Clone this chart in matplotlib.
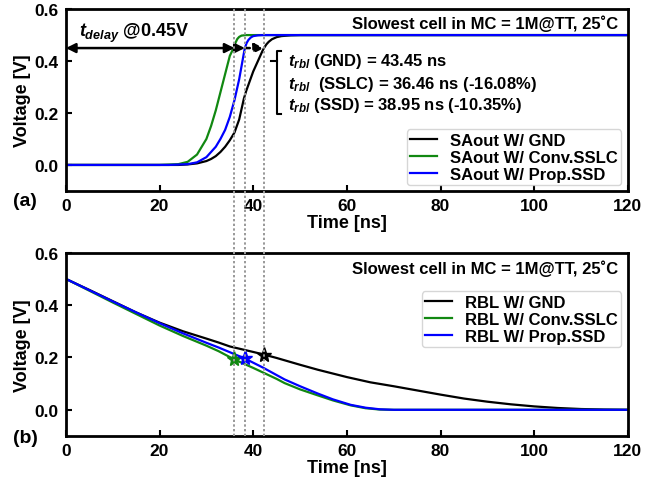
import matplotlib
matplotlib.use("Agg")
import matplotlib.pyplot as plt
from matplotlib.lines import Line2D
from matplotlib.transforms import blended_transform_factory

plt.rcParams['font.family'] = ['Liberation Sans', 'DejaVu Sans']
plt.rcParams['font.weight'] = 'bold'
plt.rcParams['mathtext.fontset'] = 'custom'
plt.rcParams['mathtext.it'] = 'Liberation Sans:bold:italic'
plt.rcParams['mathtext.rm'] = 'Liberation Sans:bold'
plt.rcParams['mathtext.bf'] = 'Liberation Sans:bold'

# ---- data: (a) sense-amp output ----
t_sa_gnd = [0, 24, 26, 28, 30, 31, 32, 33, 34, 35, 36, 37, 37.5, 38, 38.5, 39, 39.5, 40, 40.5, 41,
            41.5, 42, 42.3, 42.8, 43.3, 44, 45, 46, 48, 50, 120]
v_sa_gnd = [0, 0, 0.002, 0.006, 0.015, 0.023, 0.034, 0.05, 0.07, 0.095, 0.125, 0.175, 0.215, 0.255,
            0.285, 0.31, 0.335, 0.36, 0.38, 0.40, 0.42, 0.44, 0.45, 0.464, 0.474, 0.484, 0.492,
            0.496, 0.499, 0.5, 0.5]

t_sa_sslc = [0, 20, 24, 26, 28, 30, 31, 32, 33, 34, 35, 35.8, 36.2, 36.6, 37, 37.5, 38.5, 40, 120]
v_sa_sslc = [0, 0, 0.003, 0.012, 0.04, 0.1, 0.15, 0.21, 0.28, 0.35, 0.42, 0.45, 0.47, 0.485,
             0.493, 0.498, 0.5, 0.5, 0.5]

t_sa_ssd = [0, 22, 26, 28, 30, 32, 33, 34, 35, 36, 36.5, 37, 37.5, 38, 38.2, 38.6, 39, 39.5, 40,
            41, 42, 120]
v_sa_ssd = [0, 0, 0.003, 0.01, 0.03, 0.07, 0.1, 0.135, 0.185, 0.25, 0.29, 0.33, 0.38, 0.43, 0.45,
            0.47, 0.482, 0.491, 0.496, 0.499, 0.5, 0.5]

# ---- data: (b) read bit line ----
t_rbl_gnd = [0, 5, 10, 15, 20, 25, 30, 32.6, 35, 40, 42.3, 45, 50, 53.8, 60, 65, 70, 75, 80, 85,
             90, 95, 100, 105, 110, 115, 120]
v_rbl_gnd = [0.5, 0.458, 0.415, 0.372, 0.333, 0.3, 0.272, 0.257, 0.242, 0.221, 0.211, 0.198, 0.172,
             0.153, 0.125, 0.105, 0.09, 0.074, 0.058, 0.043, 0.031, 0.021, 0.013, 0.007, 0.003,
             0.001, 0]

t_rbl_sslc = [0, 5, 10, 15, 20, 25, 30, 32.6, 36, 40, 45, 46.7, 50, 53.8, 57, 60.8, 64, 67, 70, 120]
v_rbl_sslc = [0.5, 0.455, 0.41, 0.366, 0.322, 0.282, 0.245, 0.224, 0.192, 0.16, 0.118, 0.102,
              0.078, 0.055, 0.036, 0.017, 0.006, 0.001, 0, 0]

t_rbl_ssd = [0, 5, 10, 15, 20, 25, 30, 32.6, 38.2, 42, 46.7, 50, 53.8, 57, 60.8, 64, 67, 70, 120]
v_rbl_ssd = [0.5, 0.457, 0.414, 0.372, 0.331, 0.292, 0.256, 0.238, 0.196, 0.162, 0.116, 0.09, 0.062,
             0.04, 0.019, 0.008, 0.002, 0, 0]

# crossing times (dotted lines) and star markers on RBL
cross_t = [36.0, 38.2, 42.3]          # SSLC, SSD, GND
star_v = [0.193, 0.196, 0.211]
colors = ['#118811', '#0000ff', '#000000']

legend_a = ['SAout W/ GND', 'SAout W/ Conv.SSLC', 'SAout W/ Prop.SSD']
legend_b = ['RBL W/ GND', 'RBL W/ Conv.SSLC', 'RBL W/ Prop.SSD']
title_txt = 'Slowest cell in MC = 1M@TT, 25˚C'
trbl_lines = [r'$t_{rbl}$ (GND) = 43.45 ns',
              r'$t_{rbl}$  (SSLC) = 36.46 ns (-16.08%)',
              r'$t_{rbl}$ (SSD) = 38.95 ns (-10.35%)']

C_GND, C_SSLC, C_SSD = '#000000', '#118811', '#0000ff'

fig = plt.figure(figsize=(6.46, 4.81), dpi=100)
ax1 = fig.add_axes([0.102, 0.601, 0.870, 0.378])
ax2 = fig.add_axes([0.102, 0.0915, 0.870, 0.381])

FS = 12
FT = 12.5
for ax in (ax1, ax2):
    ax.set_xlim(0, 120)
    ax.set_ylim(-0.1, 0.6)
    ax.set_xticks([0, 20, 40, 60, 80, 100, 120])
    ax.set_yticks([0.0, 0.2, 0.4, 0.6])
    ax.set_yticklabels(['0.0', '0.2', '0.4', '0.6'])
    ax.tick_params(direction='in', length=4, width=1.5, labelsize=FT, pad=5)
    for lab in ax.get_xticklabels() + ax.get_yticklabels():
        lab.set_fontweight('bold')
    for s in ax.spines.values():
        s.set_linewidth(2.0)
    ax.set_xlabel('Time [ns]', fontsize=13, fontweight='bold', labelpad=1)
    ax.set_ylabel('Voltage [V]', fontsize=13, fontweight='bold', labelpad=3)

# (a)
ax1.plot(t_sa_gnd, v_sa_gnd, color=C_GND, lw=1.6, label=legend_a[0])
ax1.plot(t_sa_sslc, v_sa_sslc, color=C_SSLC, lw=1.6, label=legend_a[1])
ax1.plot(t_sa_ssd, v_sa_ssd, color=C_SSD, lw=1.6, label=legend_a[2])
leg1 = ax1.legend(loc='lower right', bbox_to_anchor=(0.988, 0.033), fontsize=FS,
                  frameon=True, fancybox=True, handlelength=1.6, handletextpad=0.8,
                  labelspacing=0.12, borderpad=0.2, borderaxespad=0)
leg1.get_frame().set_edgecolor('#cccccc')
leg1.get_frame().set_linewidth(1.0)
for tx in leg1.get_texts():
    tx.set_fontweight('bold')

ax1.text(0.982, 0.925, title_txt, transform=ax1.transAxes, ha='right', va='center',
         fontsize=FS, fontweight='bold')

# delay arrows
ax1.annotate('', xy=(cross_t[0], 0.45), xytext=(0, 0.45),
             arrowprops=dict(arrowstyle='<|-|>', color='black', lw=1.8, mutation_scale=14,
                             shrinkA=0, shrinkB=0))
ax1.annotate('', xy=(cross_t[1], 0.45), xytext=(cross_t[0], 0.45),
             arrowprops=dict(arrowstyle='-|>', color='black', lw=1.8, mutation_scale=14,
                             shrinkA=0, shrinkB=0))
ax1.annotate('', xy=(cross_t[2], 0.45), xytext=(cross_t[1], 0.45),
             arrowprops=dict(arrowstyle='-|>', color='black', lw=1.8, mutation_scale=14,
                             shrinkA=0, shrinkB=0, linestyle=(0, (2, 2))))
ax1.text(14.5, 0.51, r'$t_{delay}$ @0.45V', ha='center', va='center', fontsize=13,
         fontweight='bold')

# bracket
ax1.plot([46.0, 45.1, 45.1, 46.0], [0.438, 0.438, 0.196, 0.196], color='black', lw=1.5)
ax1.plot([43.8, 45.1], [0.40, 0.40], color='black', lw=1.5)
for yv, s in zip([0.401, 0.312, 0.231], trbl_lines):
    ax1.text(47.4, yv, s, ha='left', va='center', fontsize=FS, fontweight='bold')

ax1.text(-0.095, -0.05, '(a)', transform=ax1.transAxes, fontsize=14, fontweight='bold',
         ha='left', va='center')

# (b)
ax2.plot(t_rbl_gnd, v_rbl_gnd, color=C_GND, lw=1.6, label=legend_b[0])
ax2.plot(t_rbl_sslc, v_rbl_sslc, color=C_SSLC, lw=1.6, label=legend_b[1])
ax2.plot(t_rbl_ssd, v_rbl_ssd, color=C_SSD, lw=1.6, label=legend_b[2])
for tt, vv, cc in zip(cross_t, star_v, colors):
    ax2.plot([tt], [vv], marker='*', color=cc, markersize=11, linestyle='none', zorder=6)
leg2 = ax2.legend(loc='upper right', bbox_to_anchor=(0.988, 0.79), fontsize=FS,
                  frameon=True, fancybox=True, handlelength=1.6, handletextpad=0.8,
                  labelspacing=0.12, borderpad=0.2, borderaxespad=0)
leg2.get_frame().set_edgecolor('#cccccc')
leg2.get_frame().set_linewidth(1.0)
for tx in leg2.get_texts():
    tx.set_fontweight('bold')
ax2.text(0.982, 0.917, title_txt, transform=ax2.transAxes, ha='right', va='center',
         fontsize=FS, fontweight='bold')
ax2.text(-0.095, -0.01, '(b)', transform=ax2.transAxes, fontsize=14, fontweight='bold',
         ha='left', va='center')

# dotted vertical lines spanning both panels
trans = blended_transform_factory(ax1.transData, fig.transFigure)
for tt in cross_t:
    fig.add_artist(Line2D([tt, tt], [0.0915, 0.979], transform=trans, color='#999999',
                          lw=1.4, linestyle=(0, (1.2, 1.2)), zorder=5))

fig.savefig('out.png', dpi=100)
